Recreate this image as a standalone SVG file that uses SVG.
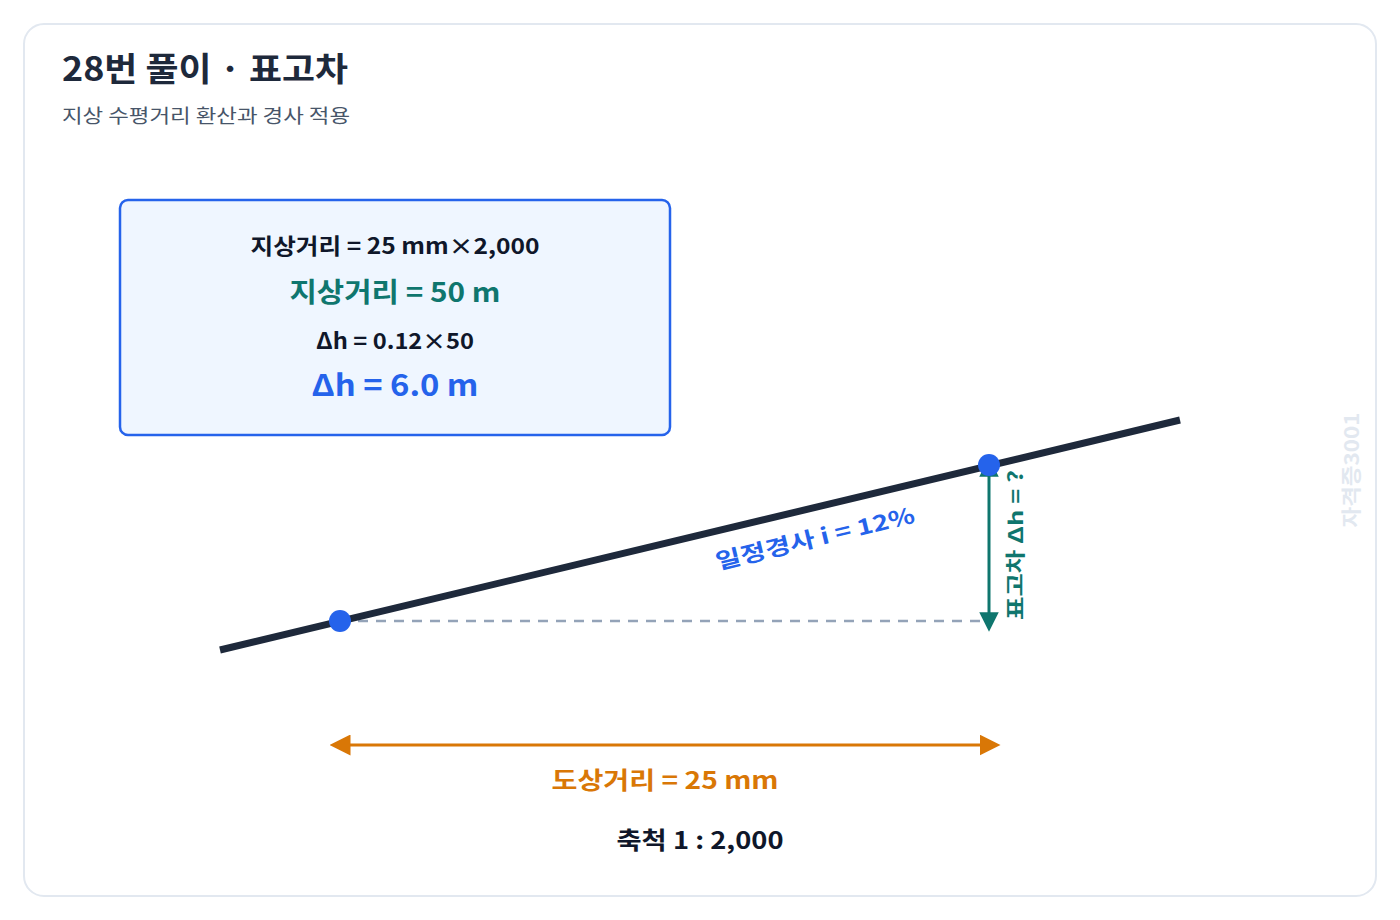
<svg xmlns="http://www.w3.org/2000/svg" width="1400" height="920" viewBox="0 0 1400 920">
<defs>
<marker id="arrG" viewBox="0 0 10 10" refX="5" refY="5" markerWidth="6.5" markerHeight="6.5" orient="auto-start-reverse" markerUnits="strokeWidth">
<path d="M0,0 L10,5 L0,10 z" fill="#0f766e"/>
</marker>
<marker id="arrO" viewBox="0 0 10 10" refX="5" refY="5" markerWidth="7" markerHeight="7" orient="auto-start-reverse" markerUnits="strokeWidth">
<path d="M0,0 L10,5 L0,10 z" fill="#d97706"/>
</marker>
<style>
text{font-family:"Noto Sans CJK KR","Noto Sans",sans-serif;}
.b{font-weight:700;}
.c{text-anchor:middle;}
</style>
</defs>
<rect x="24" y="24" width="1352" height="872" rx="20" fill="#ffffff" stroke="#e2e8f0" stroke-width="2"/>
<g id="title">
<text x="62" y="81" font-size="33" class="b" fill="#1e293b" textLength="286" lengthAdjust="spacingAndGlyphs">28번 풀이 · 표고차</text>
<text x="62" y="123" font-size="19" fill="#475569" textLength="288" lengthAdjust="spacingAndGlyphs">지상 수평거리 환산과 경사 적용</text>
</g>
<g id="formula-box">
<rect x="120" y="200" width="550" height="235" rx="8" fill="#eff6ff" stroke="#2563eb" stroke-width="2.5"/>
<text x="395" y="254" font-size="22" class="b c" fill="#0f172a" textLength="289" lengthAdjust="spacingAndGlyphs">지상거리 = 25 mm×2,000</text>
<text x="395" y="302" font-size="27" class="b c" fill="#0f766e" textLength="211" lengthAdjust="spacingAndGlyphs">지상거리 = 50 m</text>
<text x="395" y="349" font-size="22" class="b c" fill="#0f172a" textLength="158" lengthAdjust="spacingAndGlyphs">Δh = 0.12×50</text>
<text x="395" y="396" font-size="30" class="b c" fill="#2563eb" textLength="167" lengthAdjust="spacingAndGlyphs">Δh = 6.0 m</text>
</g>
<g id="connectors">
<line x1="340" y1="621" x2="989" y2="621" stroke="#94a3b8" stroke-width="2.5" stroke-dasharray="10 8"/>
<line x1="220" y1="650" x2="1180" y2="420" stroke="#1e293b" stroke-width="7"/>
<line x1="989" y1="467" x2="989" y2="622" stroke="#0f766e" stroke-width="3" marker-start="url(#arrG)" marker-end="url(#arrG)"/>
<line x1="340" y1="745" x2="990" y2="745" stroke="#d97706" stroke-width="3" marker-start="url(#arrO)" marker-end="url(#arrO)"/>
</g>
<g id="point-a">
<circle cx="340" cy="621" r="11" fill="#2563eb"/>
</g>
<g id="point-b">
<circle cx="989" cy="465" r="11" fill="#2563eb"/>
</g>
<g id="labels">
<text transform="translate(817,546) rotate(-13.5)" font-size="22" class="b c" fill="#2563eb" textLength="204" lengthAdjust="spacingAndGlyphs">일정경사 i = 12%</text>
<text transform="translate(1023,545) rotate(-90)" font-size="20" class="b c" fill="#0f766e" textLength="150" lengthAdjust="spacingAndGlyphs">표고차 Δh = ?</text>
<text x="665" y="789" font-size="24" class="b c" fill="#d97706" textLength="227" lengthAdjust="spacingAndGlyphs">도상거리 = 25 mm</text>
<text x="700" y="849" font-size="24" class="b c" fill="#0f172a" textLength="167" lengthAdjust="spacingAndGlyphs">축척 1 : 2,000</text>
<text transform="translate(1359,470) rotate(-90)" font-size="20" class="b c" fill="#e2e8f0" textLength="115" lengthAdjust="spacingAndGlyphs">자격증3001</text>
</g>
</svg>
